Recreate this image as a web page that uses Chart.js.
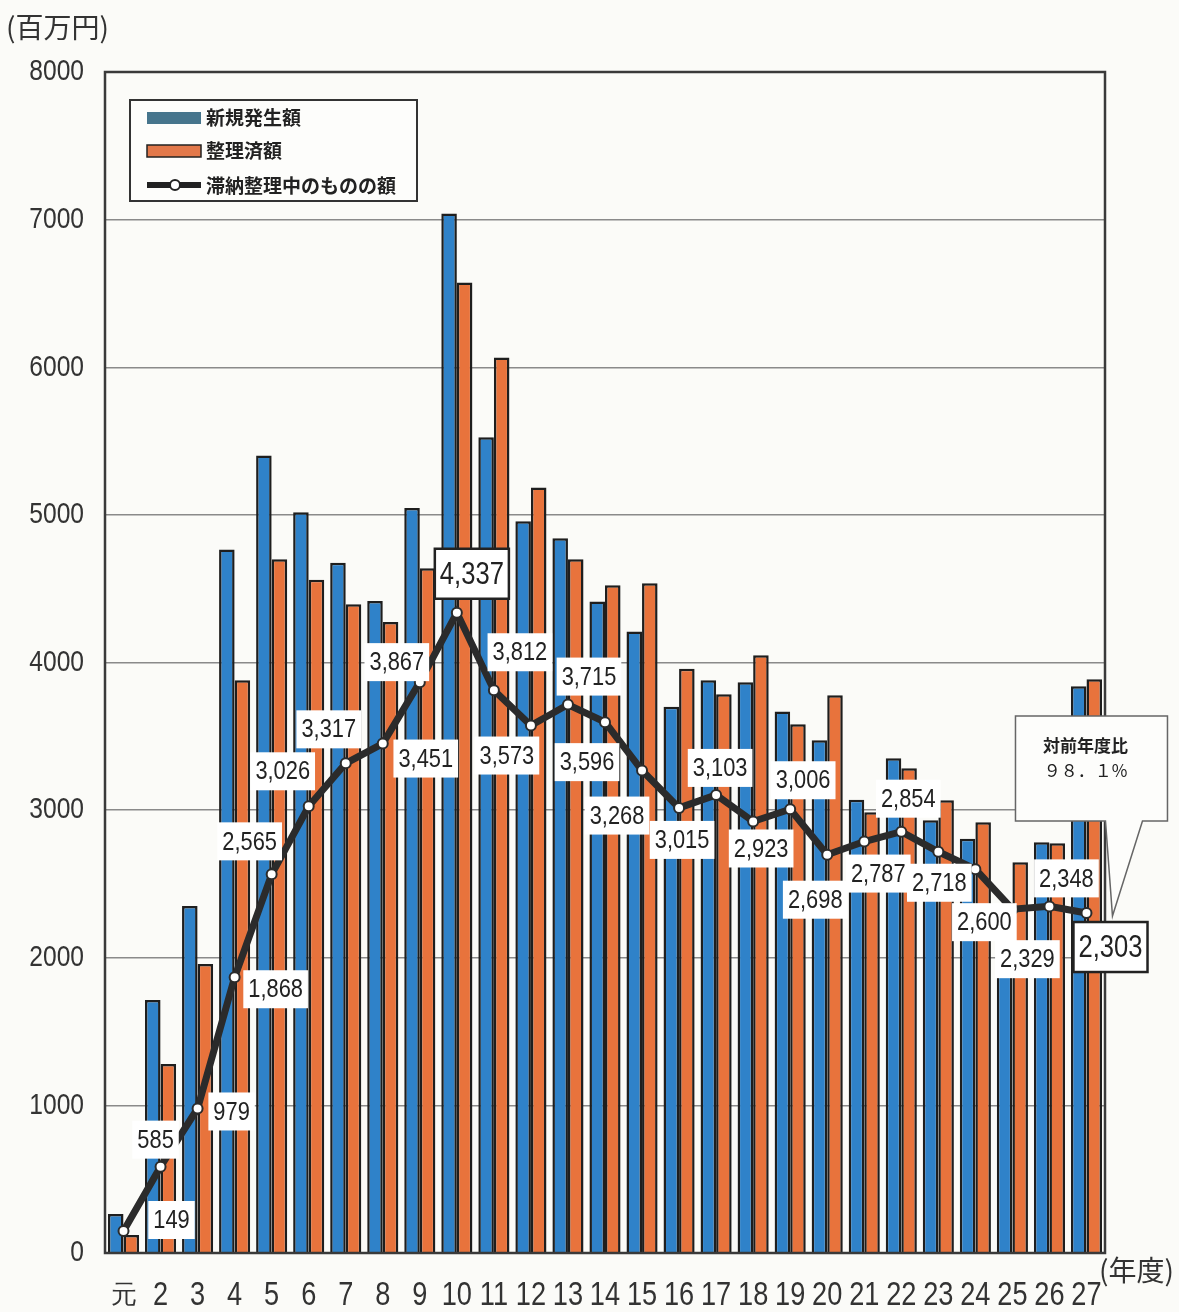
<!DOCTYPE html>
<html>
<head>
<meta charset="utf-8">
<script src="https://cdn.jsdelivr.net/npm/chart.js@4.4.1/dist/chart.umd.min.js"></script>
<style>
html, body { margin: 0; padding: 0; background: #fbfbf8; }
#wrap { position: relative; width: 1179px; height: 1312px; }
</style>
</head>
<body>
<div id="wrap"><canvas id="c" width="1179" height="1312"></canvas></div>
<script>
// データ（百万円）
const nendo = ['元', '2', '3', '4', '5', '6', '7', '8', '9', '10', '11', '12', '13', '14',
               '15', '16', '17', '18', '19', '20', '21', '22', '23', '24', '25', '26', '27'];
const shinki = [264, 1713, 2350, 4765, 5403, 5017, 4675, 4417, 5047, 7041, 5525, 4956, 4841, 4414,
                4210, 3700, 3880, 3866, 3668, 3473, 3070, 3351, 2932, 2806, 2100, 2783, 3839];
const seiri = [122, 1280, 1957, 3880, 4699, 4560, 4394, 4275, 4638, 6574, 6066, 5186, 4699, 4523,
               4536, 3958, 3785, 4049, 3582, 3778, 2986, 3284, 3067, 2918, 2647, 2776, 3886];
const tainou = [149, 585, 979, 1868, 2565, 3026, 3317, 3451, 3867, 4337, 3812, 3573, 3715, 3596,
                3268, 3015, 3103, 2923, 3006, 2698, 2787, 2854, 2718, 2600, 2329, 2348, 2303];
const yTicks = [0, 1000, 2000, 3000, 4000, 5000, 6000, 7000, 8000];
const hikaku = ['対前年度比', '９８．１%'];

// ラベル位置（点からのずれ）
const labelOffsets = [[48,-11],[-5,-27],[34,3],[41,12],[-22,-33],[-26,-35],[-17,-34],[43,15],[-23,-20],
  [15,-39],[26,-38],[-24,30],[21,-28],[-18,40],[-25,45],[3,32],[4,-27],[8,27],[13,-29],[-12,45],
  [14,32],[7,-33],[1,31],[9,53],[15,50],[17,-28],[24,34]];
const boxed = { 9: true, 26: true };

const SANS = '"Liberation Sans", Arial, sans-serif';
const JP = '"Noto Sans CJK JP", sans-serif';

function fmt(v) { return v.toLocaleString('en-US'); }

// 長体の文字
function narrowText(ctx, txt, x, y, size, sx, align) {
    ctx.save();
    ctx.font = size + 'px ' + SANS;
    ctx.textAlign = align || 'center';
    ctx.textBaseline = 'middle';
    ctx.translate(x, y);
    ctx.scale(sx, 1);
    ctx.fillText(txt, 0, 0);
    ctx.restore();
}
function narrowWidth(ctx, txt, size, sx) {
    ctx.save();
    ctx.font = size + 'px ' + SANS;
    const w = ctx.measureText(txt).width * sx;
    ctx.restore();
    return w;
}

const extras = {
    id: 'extras',
    afterDatasetsDraw(chart) {
        const { ctx, chartArea: a, scales } = chart;
        ctx.save();

        // 枠
        ctx.strokeStyle = '#3a3a3a';
        ctx.lineWidth = 2.5;
        ctx.strokeRect(a.left, a.top, a.right - a.left, a.bottom - a.top);

        // 目盛ラベル
        ctx.fillStyle = '#333';
        yTicks.forEach(v => narrowText(ctx, String(v), a.left - 21, scales.y.getPixelForValue(v), 30, 0.82, 'right'));
        nendo.forEach((t, i) => narrowText(ctx, t, scales.x.getPixelForValue(i), 1296, t === '元' ? 26 : 34, t === '元' ? 1 : 0.8));

        const pts = chart.getDatasetMeta(2).data;

        // 対前年度比の吹き出し
        const last = pts[pts.length - 1];
        const bx = last.x - 71, by = last.y - 197, bw = 152, bh = 105;
        const tipX = last.x + 26, tipY = last.y + 3;
        ctx.beginPath();
        ctx.moveTo(bx, by);
        ctx.lineTo(bx + bw, by);
        ctx.lineTo(bx + bw, by + bh);
        ctx.lineTo(bx + 127, by + bh);
        ctx.lineTo(tipX, tipY);
        ctx.lineTo(bx + 90, by + bh);
        ctx.lineTo(bx, by + bh);
        ctx.closePath();
        ctx.fillStyle = '#fdfdfb';
        ctx.fill();
        ctx.strokeStyle = '#666';
        ctx.lineWidth = 1.5;
        ctx.stroke();
        ctx.fillStyle = '#222';
        ctx.textAlign = 'center';
        ctx.textBaseline = 'middle';
        ctx.font = 'bold 17px ' + JP;
        ctx.fillText(hikaku[0], bx + 70, by + 30);
        ctx.font = '17px ' + JP;
        ctx.fillText(hikaku[1], bx + 70, by + 55);

        // データラベル
        pts.forEach((p, i) => {
            const big = boxed[i];
            const txt = fmt(tainou[i]);
            const size = big ? 32 : 26, sx = big ? 0.8 : 0.84;
            const w = narrowWidth(ctx, txt, size, sx) + 10;
            const h = big ? 50 : 38;
            const cx = p.x + labelOffsets[i][0], cy = p.y + labelOffsets[i][1];
            ctx.fillStyle = '#ffffff';
            ctx.fillRect(cx - w / 2, cy - h / 2, w, h);
            if (big) {
                ctx.strokeStyle = '#222';
                ctx.lineWidth = 2.5;
                ctx.strokeRect(cx - w / 2, cy - h / 2, w, h);
            }
            ctx.fillStyle = '#222';
            narrowText(ctx, txt, cx, cy + 1, size, sx);
        });

        // 凡例
        ctx.fillStyle = '#fdfdfb';
        ctx.fillRect(130, 100, 287, 101);
        ctx.strokeStyle = '#333';
        ctx.lineWidth = 2;
        ctx.strokeRect(130, 100, 287, 101);
        ctx.fillStyle = '#46758c';
        ctx.fillRect(147, 112, 54, 12);
        ctx.fillStyle = '#e2784a';
        ctx.fillRect(147, 145, 54, 12);
        ctx.strokeStyle = '#222';
        ctx.lineWidth = 1.5;
        ctx.strokeRect(147, 145, 54, 12);
        ctx.lineWidth = 6;
        ctx.beginPath();
        ctx.moveTo(147, 185);
        ctx.lineTo(201, 185);
        ctx.stroke();
        ctx.beginPath();
        ctx.arc(175, 185, 5, 0, Math.PI * 2);
        ctx.fillStyle = '#fff';
        ctx.fill();
        ctx.lineWidth = 2;
        ctx.stroke();
        ctx.fillStyle = '#222';
        ctx.textAlign = 'left';
        ctx.textBaseline = 'middle';
        ctx.font = 'bold 19px ' + JP;
        ctx.fillText(chart.data.datasets[0].label, 206, 118);
        ctx.fillText(chart.data.datasets[1].label, 206, 151);
        ctx.fillText(chart.data.datasets[2].label, 206, 186);

        // 単位
        ctx.font = '28px ' + JP;
        ctx.fillStyle = '#333';
        ctx.fillText('(百万円)', 6, 27);
        ctx.fillText('(年度)', 1099, 1270);
        ctx.restore();
    }
};

new Chart(document.getElementById('c'), {
    data: {
        labels: nendo,
        datasets: [
            { type: 'bar', label: '新規発生額', data: shinki, backgroundColor: '#2f82c9',
              borderColor: '#1e1e1e', borderWidth: 2.5, categoryPercentage: 0.84, barPercentage: 1.0, order: 2 },
            { type: 'bar', label: '整理済額', data: seiri, backgroundColor: '#e8733c',
              borderColor: '#1e1e1e', borderWidth: 2.5, categoryPercentage: 0.84, barPercentage: 1.0, order: 2 },
            { type: 'line', label: '滞納整理中のものの額', data: tainou, borderColor: '#2b2b2b', borderWidth: 7,
              pointRadius: 5, pointBackgroundColor: '#fff', pointBorderColor: '#2b2b2b', pointBorderWidth: 2,
              tension: 0, order: 0 }
        ]
    },
    options: {
        responsive: false,
        animation: false,
        layout: { padding: { top: 72, right: 74, left: 0, bottom: 0 } },
        plugins: { legend: { display: false }, tooltip: { enabled: false } },
        scales: {
            x: {
                grid: { display: false, drawTicks: false },
                border: { display: false },
                ticks: { display: false, autoSkip: false },
                afterFit(s) { s.height = 59; }
            },
            y: {
                min: 0, max: 8000,
                afterBuildTicks(s) { s.ticks = yTicks.map(v => ({ value: v })); },
                grid: { color: '#8a8a8a', lineWidth: 1.5, drawTicks: false },
                border: { display: false },
                ticks: { display: false },
                afterFit(s) { s.width = 105; }
            }
        }
    },
    plugins: [extras]
});
</script>
</body>
</html>
